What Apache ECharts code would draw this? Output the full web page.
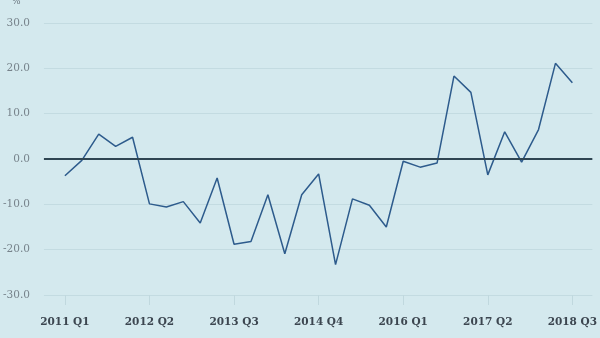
<!DOCTYPE html>
<html>
<head>
<meta charset="utf-8">
<script src="https://cdn.jsdelivr.net/npm/echarts@6/dist/echarts.min.js"></script>
<style>
html,body{margin:0;padding:0;background:#d4e9ee;}
#c{width:600px;height:338px;}
</style>
</head>
<body>
<div id="c"></div>
<script>
const categories = ["2011 Q1","2011 Q2","2011 Q3","2011 Q4","2012 Q1","2012 Q2","2012 Q3","2012 Q4","2013 Q1","2013 Q2","2013 Q3","2013 Q4","2014 Q1","2014 Q2","2014 Q3","2014 Q4","2015 Q1","2015 Q2","2015 Q3","2015 Q4","2016 Q1","2016 Q2","2016 Q3","2016 Q4","2017 Q1","2017 Q2","2017 Q3","2017 Q4","2018 Q1","2018 Q2","2018 Q3"];
const values = [-3.7,-0.3,5.5,2.8,4.8,-9.9,-10.6,-9.4,-14.1,-4.2,-18.8,-18.2,-7.9,-20.9,-7.9,-3.3,-23.3,-8.8,-10.2,-15.0,-0.5,-1.8,-0.9,18.3,14.7,-3.5,6.0,-0.7,6.5,21.1,16.8];
const tickIdx = [0,5,10,15,20,25,30];
const unitLabel = '%';

const chart = echarts.init(document.getElementById('c'), null, {renderer:'canvas'});
chart.setOption({
  backgroundColor:'#d4e9ee',
  animation:false,
  graphic:[{type:'text', left:12, top:-3, style:{text:unitLabel, fontFamily:'DejaVu Serif', fontSize:9, fill:'#6b7780'}}],
  grid:{left:43,right:7,top:23,bottom:43,containLabel:false},
  xAxis:{
    type:'value', min:-1.24, max:31.18,
    splitLine:{show:false},
    axisLine:{show:false, onZero:false},
    axisTick:{show:true, customValues:tickIdx, length:10, lineStyle:{color:'#c0d8de'}},
    axisLabel:{customValues:tickIdx, formatter:v=>categories[Math.round(v)], margin:22,
      fontFamily:'DejaVu Serif', fontWeight:'bold', fontSize:10.5, color:'#3c4650'}
  },
  yAxis:{
    type:'value', min:-30, max:30, interval:10,
    axisLine:{show:false}, axisTick:{show:false},
    splitLine:{lineStyle:{color:'#c3dbe1', width:1}},
    axisLabel:{formatter:v=>v.toFixed(1), margin:14, fontFamily:'DejaVu Serif', fontSize:10.5, color:'#77838b'}
  },
  series:[{
    type:'line',
    data:values.map((v,i)=>[i,v]),
    symbol:'none',
    lineStyle:{color:'#2d5b8c', width:1.5},
    markLine:{
      silent:true, symbol:'none', label:{show:false},
      lineStyle:{color:'#2f4552', width:2, type:'solid'},
      data:[{yAxis:0}]
    }
  }]
});
</script>
</body>
</html>
